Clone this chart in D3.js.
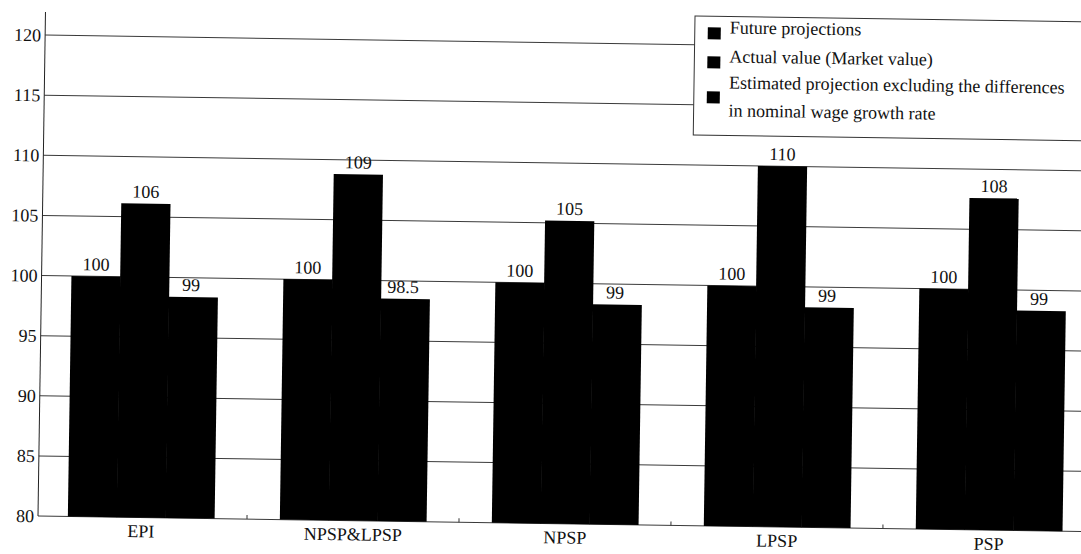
<!DOCTYPE html>
<html lang="en">
	<head>
		<meta charset="utf-8">
		<title>Projection vs actual value</title>
		<script type="text/javascript" src="https://d3js.org/d3.v7.min.js"></script>
		<style type="text/css">
			body { margin: 0; background: #fff; }
			svg text { font-family: "Liberation Serif", "Times New Roman", Times, serif !important; fill: #111; }
		</style>
	</head>
	<body>
		<script type="text/javascript">

			//Width and height
			var w = 1081;
			var h = 554;

			//Data
			var categories = ["EPI", "NPSP&LPSP", "NPSP", "LPSP", "PSP"];
			var seriesNames = ["Future projections", "Actual value (Market value)",
				"Estimated projection excluding the differences|in nominal wage growth rate"];
			var futureProj = [100, 100, 100, 100, 100];
			var actualValue = [106.1, 108.8, 105.2, 110, 107.6];
			var estimatedProj = [98.4, 98.5, 98.3, 98.3, 98.3];
			var futureLabels = ["100", "100", "100", "100", "100"];
			var actualLabels = ["106", "109", "105", "110", "108"];
			var estimatedLabels = ["99", "98.5", "99", "99", "99"];
			var yTicks = [80, 85, 90, 95, 100, 105, 110, 115, 120];

			var series = [futureProj, actualValue, estimatedProj];
			var seriesLabels = [futureLabels, actualLabels, estimatedLabels];

			var serif = "Liberation Serif";

			//Create SVG element
			var svg = d3.select("body")
						.append("svg")
						.attr("width", w)
						.attr("height", h)
						.attr("font-family", serif);

			var axisX = 38;
			var baseY = 516;

			//the scan is tilted a little clockwise, so the whole plot is turned around the origin
			var plot = svg.append("g")
						.attr("transform", "rotate(0.85 " + axisX + " " + baseY + ")");

			var x0 = d3.scaleBand()
						.domain(categories)
						.range([35, 1095])
						.paddingInner(0.31)
						.paddingOuter(0.155);

			var x1 = d3.scaleBand()
						.domain([0, 1, 2])
						.range([0, x0.bandwidth()]);

			var y = d3.scaleLinear()
						.domain([80, 120])
						.range([baseY, 35]);

			//gridlines
			plot.selectAll("line.grid")
				.data(yTicks)
				.enter()
				.append("line")
				.attr("class", "grid")
				.attr("x1", axisX)
				.attr("x2", 1110)
				.attr("y1", function(d) { return y(d); })
				.attr("y2", function(d) { return y(d); })
				.attr("stroke", "#3a3a3a")
				.attr("stroke-width", 1);

			//y axis with labels
			var yAxis = d3.axisLeft(y)
						.tickValues(yTicks)
						.tickSize(0)
						.tickPadding(4)
						.tickFormat(d3.format("d"));

			var gy = plot.append("g")
						.attr("transform", "translate(" + axisX + ",0)")
						.call(yAxis)
						.attr("font-family", serif)
						.attr("font-size", 18);
			gy.select(".domain").remove();
			gy.selectAll("text").attr("fill", "#111");

			plot.append("line")
				.attr("x1", axisX).attr("x2", axisX)
				.attr("y1", 12).attr("y2", baseY)
				.attr("stroke", "#222");

			//bars
			var groups = plot.selectAll("g.group")
						.data(categories)
						.enter()
						.append("g")
						.attr("class", "group")
						.attr("transform", function(d) { return "translate(" + x0(d) + ",0)"; });

			function rows(d, i) {
				return series.map(function(s, k) { return { k: k, v: s[i], label: seriesLabels[k][i] }; });
			}

			groups.selectAll("rect")
				.data(rows)
				.enter()
				.append("rect")
				.attr("x", function(d) { return x1(d.k); })
				.attr("width", x1.bandwidth() + 0.5)
				.attr("y", function(d) { return y(d.v); })
				.attr("height", function(d) { return baseY - y(d.v); })
				.attr("fill", "#000");

			//value labels
			groups.selectAll("text.val")
				.data(rows)
				.enter()
				.append("text")
				.attr("class", "val")
				.attr("x", function(d) { return x1(d.k) + x1.bandwidth() / 2 + (d.k == 2 ? -2 : 0); })
				.attr("y", function(d) { return y(d.v) - 6; })
				.attr("text-anchor", "middle")
				.attr("font-size", 18)
				.text(function(d) { return d.label; });

			//x axis labels and small ticks between groups
			var xAxis = d3.axisBottom(x0)
						.tickSize(0)
						.tickPadding(7);
			var gx = plot.append("g")
						.attr("transform", "translate(0," + baseY + ")")
						.call(xAxis)
						.attr("font-family", serif)
						.attr("font-size", 18);
			gx.select(".domain").remove();
			gx.selectAll("text").attr("fill", "#111");

			plot.selectAll("line.sep")
				.data(categories.slice(1))
				.enter()
				.append("line")
				.attr("class", "sep")
				.attr("x1", function(d) { return x0(d) - x0.step() * 0.155; })
				.attr("x2", function(d) { return x0(d) - x0.step() * 0.155; })
				.attr("y1", baseY)
				.attr("y2", baseY - 4)
				.attr("stroke", "#333");

			//legend
			var legend = svg.append("g")
						.attr("transform", "rotate(0.85 695 17)");

			legend.append("rect")
				.attr("x", 695)
				.attr("y", 16)
				.attr("width", 420)
				.attr("height", 119)
				.attr("fill", "#fff")
				.attr("stroke", "#333");

			var legendY = [33, 62, 97];
			var items = legend.selectAll("g.item")
						.data(seriesNames)
						.enter()
						.append("g")
						.attr("class", "item")
						.attr("transform", function(d, i) { return "translate(708," + legendY[i] + ")"; });

			items.append("rect")
				.attr("x", 0)
				.attr("y", -6)
				.attr("width", 13)
				.attr("height", 12)
				.attr("fill", "#000");

			items.append("text")
				.attr("x", 22)
				.attr("y", function(d) { return d.indexOf("|") >= 0 ? -9 : 0; })
				.attr("dy", "0.35em")
				.attr("font-size", 18)
				.each(function(d) {
					var parts = d.split("|");
					var t = d3.select(this);
					parts.forEach(function(p, j) {
						t.append("tspan")
							.attr("x", 22)
							.attr("dy", j == 0 ? 0 : 28)
							.text(p);
					});
				});

		</script>
	</body>
</html>
